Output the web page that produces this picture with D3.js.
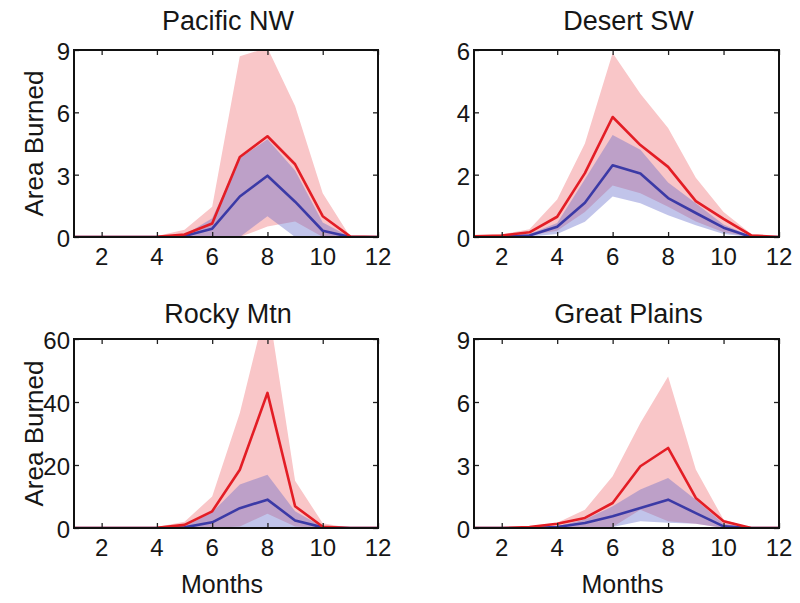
<!DOCTYPE html>
<html>
<head>
<meta charset="utf-8">
<script src="https://cdn.jsdelivr.net/npm/d3@7"></script>
<style>
  html, body { margin: 0; padding: 0; background: #fff; }
  svg { display: block; }
  text { font-family: "Liberation Sans", Arial, Helvetica, sans-serif; fill: #161616; }
</style>
</head>
<body>
<svg id="chart" width="800" height="603"></svg>
<script>
// ---------- DATA ----------
const months = [1,2,3,4,5,6,7,8,9,10,11,12];
const xTicks = [2,4,6,8,10,12];
const regionNames = ["Pacific NW", "Desert SW", "Rocky Mtn", "Great Plains"];
const yTicksPNW = [0,3,6,9];
const yTicksDSW = [0,2,4,6];
const yTicksRM  = [0,20,40,60];
const yTicksGP  = [0,3,6,9];
const yLabel = "Area Burned";
const xLabel = "Months";

// Pacific NW
const pnwRedMean  = [0,0,0,0.01,0.12,0.65,3.85,4.85,3.5,1.0,0.02,0];
const pnwRedHi    = [0,0,0,0.05,0.35,1.45,8.7,9.1,6.3,2.1,0,0];
const pnwRedLo    = [0,0,0,0,0,0,0,0.5,0.75,0,0,0];
const pnwBlueMean = [0,0,0,0,0.05,0.4,1.95,2.95,1.7,0.3,0,0];
const pnwBlueHi   = [0,0,0,0,0.1,0.9,3.8,4.7,3.2,0.7,0,0];
const pnwBlueLo   = [0,0,0,0,0,0,0,1.0,0,0,0,0];

// Desert SW
const dswRedMean  = [0.02,0.05,0.15,0.65,2.05,3.85,2.95,2.25,1.15,0.58,0.05,0];
const dswRedHi    = [0.03,0.08,0.25,1.2,3.0,5.9,4.6,3.5,1.9,0.8,0.1,0];
const dswRedLo    = [0,0.02,0.05,0.2,0.8,1.65,1.4,0.97,0.5,0.15,0,0];
const dswBlueMean = [0,0.01,0.05,0.33,1.1,2.3,2.04,1.25,0.77,0.3,0,0];
const dswBlueHi   = [0,0.02,0.1,0.45,1.85,3.27,2.8,1.75,1.08,0.4,0.02,0];
const dswBlueLo   = [0,0,0.02,0.1,0.49,1.3,1.08,0.7,0.38,0.1,0,0];

// Rocky Mtn
const rmRedMean  = [0,0,0,0.1,1.0,5.3,18.5,42.9,6.9,0.4,0,0];
const rmRedHi    = [0,0,0,0.3,2.0,10,36.5,72,15,1.5,0,0];
const rmRedLo    = [0,0,0,0,0,0,0.5,4.5,0.5,0,0,0];
const rmBlueMean = [0,0,0,0,0.2,1.8,6.3,9.0,2.4,0.2,0,0];
const rmBlueHi   = [0,0,0,0,0.5,5.0,13.8,16.9,5.3,0.3,0,0];
const rmBlueLo   = [0,0,0,0,0,0,0,0.3,0,0,0,0];

// Great Plains
const gpRedMean  = [0,0,0.05,0.2,0.48,1.19,2.94,3.81,1.43,0.32,0,0];
const gpRedHi    = [0,0,0.08,0.25,0.87,2.46,5.0,7.22,2.78,0.4,0,0];
const gpRedLo    = [0,0,0,0,0,0.05,0.87,0.32,0.2,0,0,0];
const gpBlueMean = [0,0,0,0.05,0.24,0.56,0.95,1.35,0.71,0.08,0,0];
const gpBlueHi   = [0,0,0,0.08,0.4,1.03,1.83,2.38,1.35,0.2,0,0];
const gpBlueLo   = [0,0,0,0,0,0.05,0.32,0.25,0.2,0,0,0];

// ---------- LAYOUT ----------
const panels = [
  {name: regionNames[0], ticks: yTicksPNW, rm: pnwRedMean, rh: pnwRedHi, rl: pnwRedLo, bm: pnwBlueMean, bh: pnwBlueHi, bl: pnwBlueLo,
   x0: 74, x1: 378, y0: 50, y1: 237, left: true, bottom: false},
  {name: regionNames[1], ticks: yTicksDSW, rm: dswRedMean, rh: dswRedHi, rl: dswRedLo, bm: dswBlueMean, bh: dswBlueHi, bl: dswBlueLo,
   x0: 474, x1: 779, y0: 50, y1: 237, left: false, bottom: false},
  {name: regionNames[2], ticks: yTicksRM, rm: rmRedMean, rh: rmRedHi, rl: rmRedLo, bm: rmBlueMean, bh: rmBlueHi, bl: rmBlueLo,
   x0: 74, x1: 378, y0: 339, y1: 528, left: true, bottom: true},
  {name: regionNames[3], ticks: yTicksGP, rm: gpRedMean, rh: gpRedHi, rl: gpRedLo, bm: gpBlueMean, bh: gpBlueHi, bl: gpBlueLo,
   x0: 474, x1: 779, y0: 339, y1: 528, left: false, bottom: true}
];

const svg = d3.select("#chart");
const defs = svg.append("defs");

const pinkFill = "#f9c6c8";
const blueFill = "rgb(92,100,200)";
const blueOpacity = 0.38;
const redLine = "#e31d25";
const blueLine = "#3b3aa6";

panels.forEach((p, i) => {
  const x = d3.scaleLinear().domain([1, 12]).range([p.x0, p.x1]);
  const yMax = p.ticks[p.ticks.length - 1];
  const y = d3.scaleLinear().domain([0, yMax]).range([p.y1, p.y0]);

  defs.append("clipPath").attr("id", "clip" + i)
    .append("rect").attr("x", p.x0).attr("y", p.y0)
    .attr("width", p.x1 - p.x0).attr("height", p.y1 - p.y0);

  const g = svg.append("g");
  const plot = g.append("g").attr("clip-path", `url(#clip${i})`);

  const band = (lo, hi) => d3.area()
    .x((d, k) => x(months[k]))
    .y0((d, k) => y(lo[k]))
    .y1((d, k) => y(hi[k]))(months);
  const line = (vals) => d3.line()
    .x((d, k) => x(months[k]))
    .y((d, k) => y(vals[k]))(months);

  plot.append("path").attr("d", band(p.rl, p.rh)).attr("fill", pinkFill);
  plot.append("path").attr("d", band(p.bl, p.bh)).attr("fill", blueFill).attr("fill-opacity", blueOpacity);
  plot.append("path").attr("d", line(p.bm)).attr("fill", "none").attr("stroke", blueLine)
    .attr("stroke-width", 2.6).attr("stroke-linejoin", "round");
  plot.append("path").attr("d", line(p.rm)).attr("fill", "none").attr("stroke", redLine)
    .attr("stroke-width", 2.6).attr("stroke-linejoin", "round");

  // inward ticks on all sides
  const tl = 5;
  const axB = d3.axisTop(x).tickValues(xTicks).tickSize(tl).tickFormat("");
  const axT = d3.axisBottom(x).tickValues(xTicks).tickSize(tl).tickFormat("");
  const axL = d3.axisRight(y).tickValues(p.ticks).tickSize(tl).tickFormat("");
  const axR = d3.axisLeft(y).tickValues(p.ticks).tickSize(tl).tickFormat("");
  [[axB, `translate(0,${p.y1})`], [axT, `translate(0,${p.y0})`],
   [axL, `translate(${p.x0},0)`], [axR, `translate(${p.x1},0)`]].forEach(([ax, tr]) => {
    const a = g.append("g").attr("transform", tr).call(ax);
    a.select(".domain").remove();
    a.selectAll("line").attr("stroke", "#222").attr("stroke-width", 1.3);
  });

  // box
  g.append("rect").attr("x", p.x0).attr("y", p.y0)
    .attr("width", p.x1 - p.x0).attr("height", p.y1 - p.y0)
    .attr("fill", "none").attr("stroke", "#111").attr("stroke-width", 2);

  // tick labels
  g.selectAll(".xl").data(xTicks).enter().append("text")
    .attr("x", d => x(d)).attr("y", p.y1 + 28)
    .attr("text-anchor", "middle").attr("font-size", 24).text(d => d);
  g.selectAll(".yl").data(p.ticks).enter().append("text")
    .attr("x", p.x0 - 4).attr("y", d => y(d) + 10)
    .attr("text-anchor", "end").attr("font-size", 24).text(d => d);

  // title
  g.append("text").attr("x", (p.x0 + p.x1) / 2 + 2).attr("y", p.y0 - (p.bottom ? 16 : 20))
    .attr("text-anchor", "middle").attr("font-size", 27).text(p.name);

  if (p.left) {
    g.append("text")
      .attr("transform", `translate(43,${(p.y0 + p.y1) / 2}) rotate(-90)`)
      .attr("text-anchor", "middle").attr("font-size", 26).text(yLabel);
  }
  if (p.bottom) {
    g.append("text").attr("x", (p.x0 + p.x1) / 2 - 4).attr("y", 593)
      .attr("text-anchor", "middle").attr("font-size", 25).text(xLabel);
  }
});
</script>
</body>
</html>
